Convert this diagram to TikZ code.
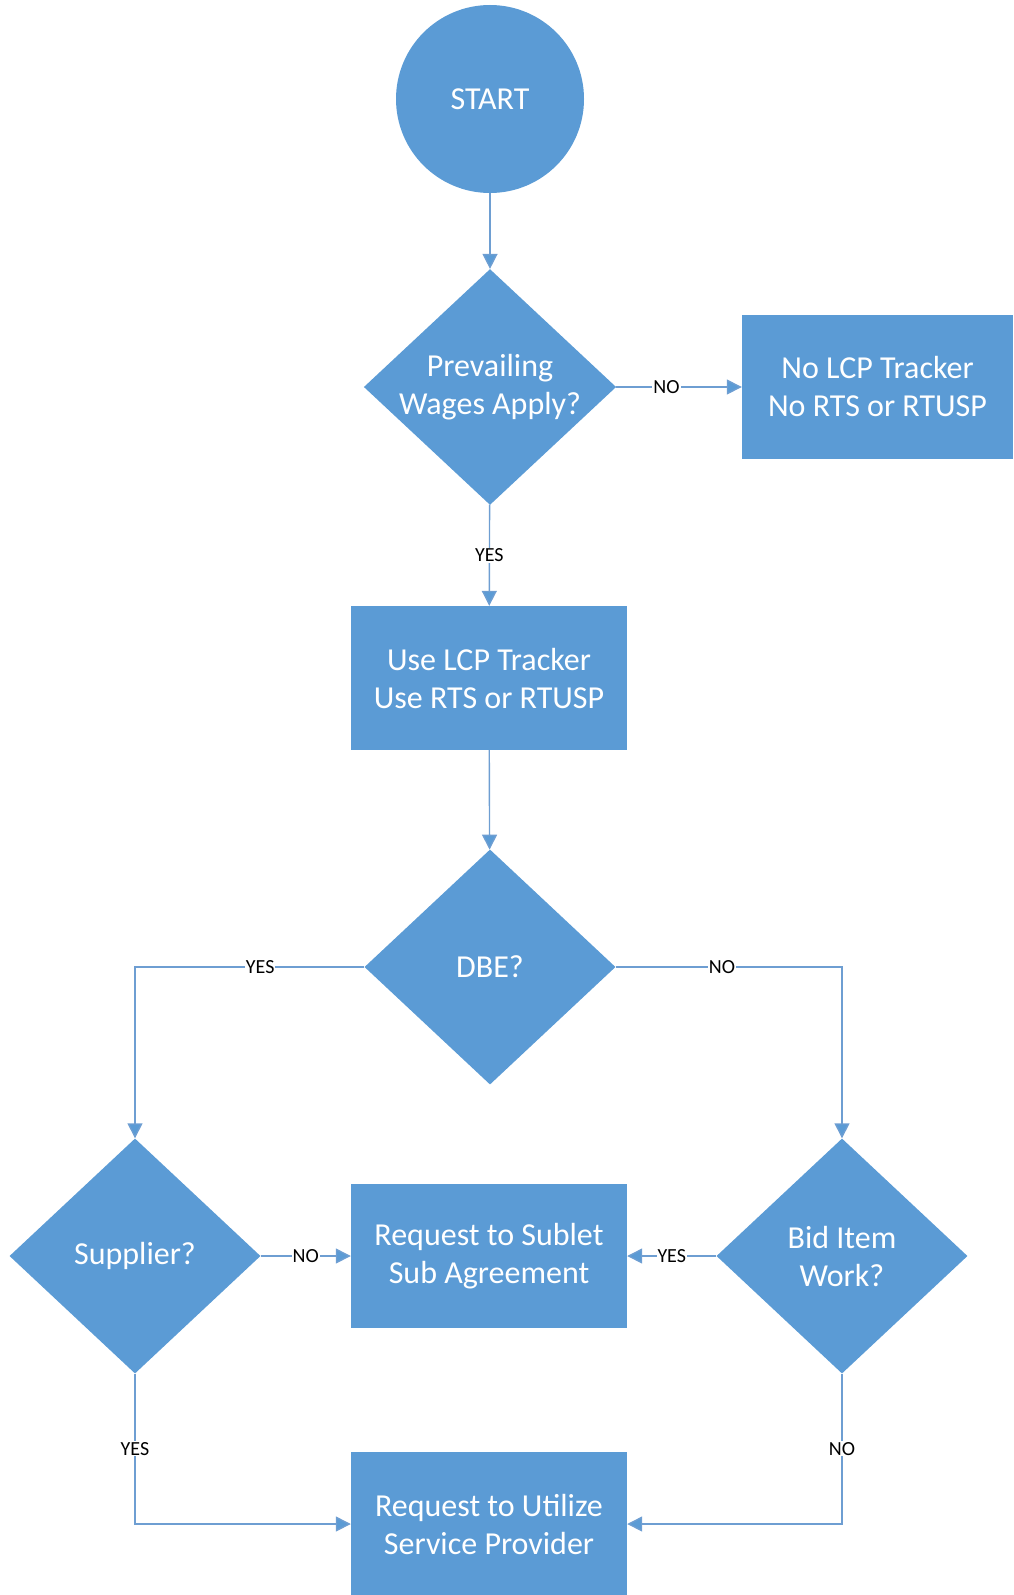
\documentclass[tikz,border=0pt]{standalone}
\usepackage{fontspec}
\setmainfont{Carlito}
\usetikzlibrary{shapes.geometric,arrows.meta}

\definecolor{flowblue}{RGB}{91,155,213}
\definecolor{lineblue}{RGB}{110,158,210}

\tikzset{
  bigtext/.style={font=\fontsize{32}{38}\selectfont},
  startnode/.style={circle, fill=flowblue, text=white, minimum size=188pt, inner sep=0pt, bigtext},
  decision/.style={diamond, aspect=1.07, fill=flowblue, text=white, minimum width=251pt, minimum height=235pt, inner sep=0pt, align=center, bigtext},
  process/.style={rectangle, fill=flowblue, text=white, minimum width=276pt, minimum height=144pt, align=center, bigtext},
  flow/.style={draw=lineblue, line width=1.4pt, -{Triangle[length=15pt,width=15pt,fill=flowblue]}},
  answer/.style={fill=white, inner sep=1pt, text=black, font=\fontsize{20}{24}\selectfont}
}

\begin{document}
\begin{tikzpicture}[x=1pt,y=-1pt]
\useasboundingbox (0,0) rectangle (1013,1595);

\node[startnode] (start) at (490,99) {START};
\node[decision] (wages) at (490,387) {Prevailing\\Wages Apply?};
\node[process, minimum width=271pt] (nolcp) at (877.5,387) {No LCP Tracker\\No RTS or RTUSP};
\node[process] (uselcp) at (489,678) {Use LCP Tracker\\Use RTS or RTUSP};
\node[decision] (dbe) at (490,967) {DBE?};
\node[decision] (supplier) at (135,1256) {Supplier?};
\node[process] (sublet) at (489,1256) {Request to Sublet\\Sub Agreement};
\node[decision] (biditem) at (842,1256) {Bid Item\\Work?};
\node[process] (utilize) at (489,1524) {Request to Utilize\\Service Provider};

\draw[flow] (start) -- (wages);
\draw[flow] (wages) -- node[answer, pos=0.4]{NO} (nolcp);
\draw[flow] (wages) -- node[answer]{YES} (uselcp);
\draw[flow] (uselcp) -- (dbe);
\draw[flow] (dbe.west) -| node[answer, pos=0.227]{YES} (supplier.north);
\draw[flow] (dbe.east) -| node[answer, pos=0.235]{NO} (biditem.north);
\draw[flow] (supplier) -- node[answer]{NO} (sublet);
\draw[flow] (biditem) -- node[answer]{YES} (sublet);
\draw[flow] (supplier.south) |- node[answer, pos=0.25]{YES} (utilize.west);
\draw[flow] (biditem.south) |- node[answer, pos=0.25]{NO} (utilize.east);
\end{tikzpicture}
\end{document}
